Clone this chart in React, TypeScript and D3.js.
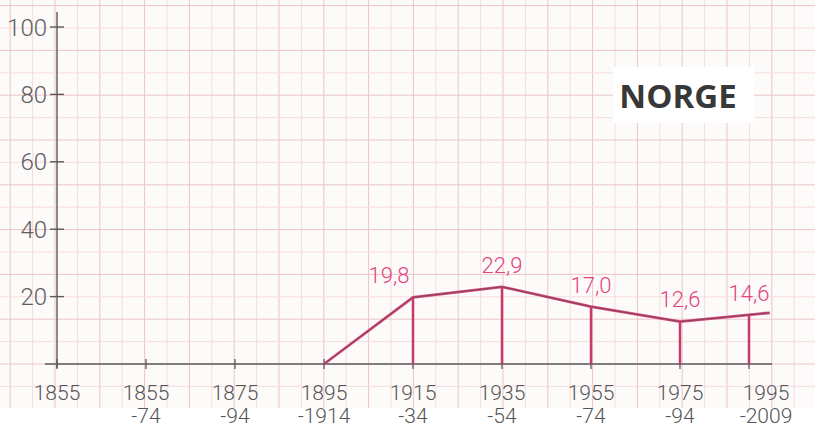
import React from "react";
import * as d3 from "d3";

const categories: string[][] = [
  ["1855"], ["1855", "-74"], ["1875", "-94"], ["1895", "-1914"], ["1915", "-34"],
  ["1935", "-54"], ["1955", "-74"], ["1975", "-94"], ["1995", "-2009"],
];
const seriesIndex = [3, 4, 5, 6, 7, 8];
const seriesValues = [0, 19.8, 22.9, 17.0, 12.6, 14.6];
const valueLabels = ["", "19,8", "22,9", "17,0", "12,6", "14,6"];
const tailPoint = { i: 8.3, v: 15.2 };
const yTicks = [20, 40, 60, 80, 100];
const title = "NORGE";

const W = 815;
const H = 428;

export default function App() {
  const x = d3.scaleLinear().domain([0, 7, 8]).range([57, 680, 749]);
  const y = d3.scaleLinear().domain([0, 100]).range([364, 27]);

  const grid = 22.4;
  const gx0 = 55 - grid * 2;
  const vLines: { p: number; major: boolean }[] = [];
  for (let k = 0; gx0 + k * grid < W + grid; k++) vLines.push({ p: gx0 + k * grid, major: k % 2 === 0 });
  const hLines: { p: number; major: boolean }[] = [];
  const gy0 = 364 - grid * 18;
  for (let k = 0; gy0 + k * grid < 410; k++) hLines.push({ p: gy0 + k * grid, major: k % 2 === 0 });

  const pts = seriesIndex.map((i, k) => [x(i), y(seriesValues[k])] as [number, number]);
  const linePts = [...pts, [x(tailPoint.i), y(tailPoint.v)] as [number, number]];
  const line = d3.line()(linePts) || "";

  const hand = "Roboto, 'DejaVu Sans', sans-serif";

  return (
    <svg width={W} height={H} style={{ position: "absolute", left: 0, top: 0 }}>
      <rect x={0} y={0} width={W} height={H} fill="#fdfafa" />
      {vLines.map((l, k) => (
        <line key={"v" + k} x1={l.p} x2={l.p} y1={0} y2={408}
          stroke={l.major ? "#ecc4c5" : "#f5dcdd"} strokeWidth={1} />
      ))}
      {hLines.map((l, k) => (
        <line key={"h" + k} x1={0} x2={W} y1={l.p} y2={l.p}
          stroke={l.major ? "#ecc4c5" : "#f5dcdd"} strokeWidth={1} />
      ))}
      <rect x={0} y={408} width={W} height={H - 408} fill="#ffffff" />

      {/* axes */}
      <line x1={57} x2={57} y1={12} y2={368} stroke="#5a5a5a" strokeWidth={1.4} />
      <line x1={45} x2={772} y1={364} y2={364} stroke="#5a5a5a" strokeWidth={1.4} />
      {yTicks.map((t) => (
        <g key={t}>
          <line x1={50} x2={64} y1={y(t)} y2={y(t)} stroke="#5a5a5a" strokeWidth={1.4} />
          <text x={47} y={y(t)} dy="0.36em" textAnchor="end" fontFamily={hand}
            fontSize={24} fill="#606060" fontWeight={300}>{t}</text>
        </g>
      ))}
      {categories.map((c, i) => (
        <g key={i}>
          <line x1={x(i)} x2={x(i)} y1={359} y2={369} stroke="#5a5a5a" strokeWidth={1.3} />
          {c.map((s, j) => (
            <text key={j} x={x(i) + (i === categories.length - 1 ? 17 : 0)} y={400 + j * 23}
              textAnchor="middle" fontFamily={hand}
              fontSize={21} fontWeight={300} fill="#555">{s}</text>
          ))}
        </g>
      ))}

      {/* drop lines */}
      {pts.slice(1).map((p, k) => (
        <line key={"d" + k} x1={p[0]} x2={p[0]} y1={p[1]} y2={364} stroke="#c8386a" strokeWidth={2.5} />
      ))}
      <path d={line} fill="none" stroke="#d04878" strokeWidth={2.8} />
      <path d={line} fill="none" stroke="#4a3a40" strokeWidth={1} opacity={0.55} />

      {pts.map((p, k) => valueLabels[k] ? (
        <text key={"l" + k} x={p[0] - (k === 1 ? 24 : 0)} y={p[1] - 22} dy="0.36em" textAnchor="middle"
          fontFamily={hand} fontSize={22} fontWeight={300} fill="#e0457e">{valueLabels[k]}</text>
      ) : null)}

      <rect x={613} y={67} width={141} height={56} fill="#ffffff" />
      <text x={678} y={96} dy="0.36em" textAnchor="middle" fontFamily="'Open Sans', sans-serif"
        fontWeight={700} fontSize={33} fill="#383838">{title}</text>
    </svg>
  );
}
